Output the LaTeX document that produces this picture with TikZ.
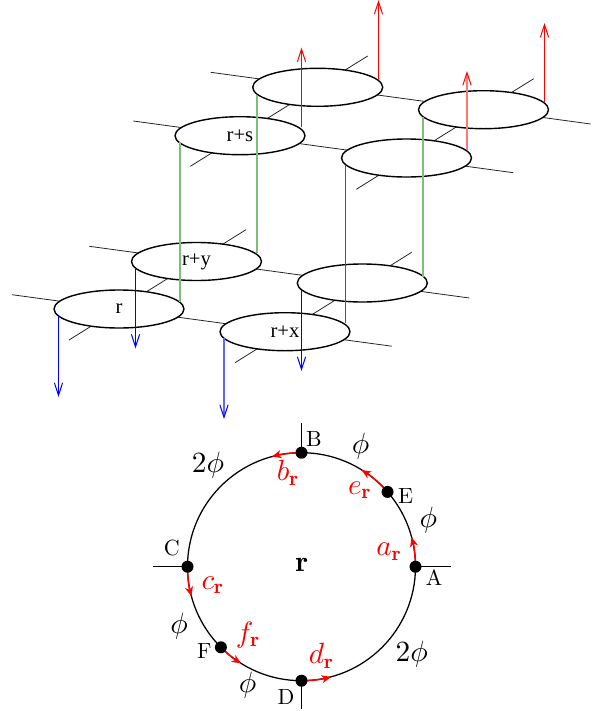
\documentclass[tikz,border=0pt]{standalone}
\usepackage{fontspec}
\newfontfamily\tms{Liberation Serif}
\usetikzlibrary{arrows.meta,shapes.geometric}
\newcommand{\bigmath}[1]{\scalebox{2.2}{$#1$}}
\newcommand{\bigletter}[1]{\scalebox{1.65}{#1}}
\definecolor{softgreen}{RGB}{125,190,125}
\definecolor{softred}{RGB}{255,120,120}
\definecolor{softblue}{RGB}{100,100,255}
\tikzset{
  x=.75pt,y=.75pt,
  grid line/.style={black!85,line width=.6pt},
  site/.style={ellipse,draw=black,fill=white,line width=1.05pt,inner sep=0pt,outer sep=0pt,
    minimum width=97.5pt,minimum height=28.5pt,font=\tms\fontsize{15.5}{15.5}\selectfont},
  green link/.style={draw={rgb,255:red,20;green,130;blue,20},line width=.75pt},
  soft green link/.style={draw=softgreen,line width=1.1pt},
  red link/.style={-{Straight Barb[length=9.5pt,width=6.2pt,line width=.75pt,color=red]},draw=red,line width=.75pt},
  soft red link/.style={-{Straight Barb[length=9.5pt,width=6.2pt,line width=.75pt,color=red]},draw=softred,line width=1.1pt},
  blue link/.style={-{Straight Barb[length=9.5pt,width=6.2pt,line width=.75pt,color=blue]},draw=blue,line width=.75pt},
  soft blue link/.style={-{Straight Barb[length=9.5pt,width=6.2pt,line width=.75pt,color=blue]},draw=softblue,line width=1.1pt},
  ring/.style={circle,draw=black,line width=.95pt,inner sep=0pt,outer sep=0pt,minimum size=171pt},
  dot/.style={circle,fill=black,inner sep=0pt,outer sep=0pt,minimum size=9pt},
  stub/.style={draw=black,line width=1.1pt},
  flow/.style={draw=red,line width=1.15pt,-{Stealth[length=7pt,width=6pt,inset=2pt]}},
  letter/.style={inner sep=0pt},
  arc label/.style={inner sep=0pt},
  flow label/.style={inner sep=0pt,text=red},
}
\begin{document}
\begin{tikzpicture}
\useasboundingbox (0,0) rectangle (605,-711);
% grid lines
\coordinate (h1a) at (12,-294.7);   \coordinate (h1b) at (391.7,-346.2);
\coordinate (h2a) at (89.3,-246.3); \coordinate (h2b) at (469.3,-298);
\coordinate (h3a) at (133.3,-121);  \coordinate (h3b) at (513.3,-172.7);
\coordinate (h4a) at (210.7,-72.3); \coordinate (h4b) at (590.7,-124);
\coordinate (d1a) at (69,-340);     \coordinate (d1b) at (246,-229.7);
\coordinate (d2a) at (235,-362.7);  \coordinate (d2b) at (411.7,-252.3);
\coordinate (d3a) at (190.3,-166.3);\coordinate (d3b) at (367.7,-56);
\coordinate (d4a) at (356.3,-189.3);\coordinate (d4b) at (533.7,-78.7);
\foreach \n in {h1,h2,h3,h4,d1,d2,d3,d4} \draw[grid line] (\n a) -- (\n b);
% sites
\node[site] (r)   at (119,-309)     {r};
\node[site] (ry)  at (196.5,-261.5) {r+y};
\node[site] (rx)  at (285,-331.7)   {r+x};
\node[site] (q)   at (362.3,-283)   {};
\node[site] (rs)  at (240,-135.7)   {r+s};
\node[site] (t)   at (317.7,-87.3)  {};
\node[site] (u)   at (406.5,-158)   {};
\node[site] (v)   at (483.5,-109.7) {};
% green links
\draw[soft green link] (180,-142) coordinate (g1a) -- (180,-301.5) coordinate (g1b);
\draw[soft green link] (257,-95) coordinate (g2a) -- (257,-253) coordinate (g2b);
\draw[green link] (345.5,-165) coordinate (g3a) -- (345.5,-323) coordinate (g3b);
\draw[soft green link] (422.8,-117) coordinate (g4a) -- (422.8,-276.5) coordinate (g4b);
% blue arrows
\draw[blue link] (58.5,-315) coordinate (b1a) -- (58.5,-397) coordinate (b1b);
\draw[blue link] (135.5,-268) coordinate (b2a) -- (135.5,-348.5) coordinate (b2b);
\draw[soft blue link] (224,-338) coordinate (b3a) -- (224,-419) coordinate (b3b);
\draw[blue link] (301.5,-290) coordinate (b4a) -- (301.5,-371) coordinate (b4b);
% red arrows
\draw[red link] (301.5,-127) coordinate (c1a) -- (301.5,-47.5) coordinate (c1b);
\draw[red link] (378.5,-80) coordinate (c2a) -- (378.5,0) coordinate (c2b);
\draw[soft red link] (467,-150) coordinate (c3a) -- (467,-71) coordinate (c3b);
\draw[red link] (544.5,-102) coordinate (c4a) -- (544.5,-23) coordinate (c4b);
% ring
\node[ring] (O) at (301.5,-566.7) {};
\node[inner sep=0pt] (Rr) at (302,-564.5) {\scalebox{2.2}{$\mathbf{r}$}};
\coordinate (tA) at (450.7,-566.7);
\coordinate (tB) at (301.5,-423);
\coordinate (tC) at (152.7,-566.7);
\coordinate (tD) at (301.5,-709.3);
\draw[stub] (O.0) -- (tA);
\draw[stub] (O.90) -- (tB);
\draw[stub] (O.180) -- (tC);
\draw[stub] (O.270) -- (tD);
\draw[flow] (O.0) arc[start angle=0,end angle=15,radius=85.5pt];
\draw[flow] (O.90) arc[start angle=90,end angle=105,radius=85.5pt];
\draw[flow] (O.180) arc[start angle=180,end angle=195,radius=85.5pt];
\draw[flow] (O.270) arc[start angle=270,end angle=285,radius=85.5pt];
\draw[flow] (O.41.3) arc[start angle=41.3,end angle=58.4,radius=85.5pt];
\draw[flow] (O.225) arc[start angle=225,end angle=238,radius=85.5pt];
\node[dot] (A) at (O.0) {};
\node[dot] (B) at (O.90) {};
\node[dot] (C) at (O.180) {};
\node[dot] (D) at (O.270) {};
\node[dot] (E) at (O.41.3) {};
\node[dot] (F) at (O.225) {};
\node[letter] (lA) at (434,-578) {\bigletter{A}};
\node[letter] (lB) at (314,-439) {\bigletter{B}};
\node[letter] (lC) at (171.7,-547.7) {\bigletter{C}};
\node[letter] (lD) at (286,-696.7) {\bigletter{D}};
\node[letter] (lE) at (405.7,-496) {\bigletter{E}};
\node[letter] (lF) at (204.3,-650.7) {\bigletter{F}};
\node[arc label] (p1) at (360.7,-445.7) {\bigmath{\phi}};
\node[arc label] (p2) at (428.3,-520) {\bigmath{\phi}};
\node[arc label] (p3) at (179,-626) {\bigmath{\phi}};
\node[arc label] (p4) at (247.7,-685) {\bigmath{\phi}};
\node[arc label] (p5) at (411.7,-654.3) {\bigmath{2\phi}};
\node[arc label] (p6) at (208,-465) {\bigmath{2\phi}};
\node[flow label] (fa) at (389.3,-551.7) {\bigmath{a_{\mathbf{r}}}};
\node[flow label] (fb) at (288.3,-473) {\bigmath{b_{\mathbf{r}}}};
\node[flow label] (fc) at (213,-585) {\bigmath{c_{\mathbf{r}}}};
\node[flow label] (fd) at (321.7,-656) {\bigmath{d_{\mathbf{r}}}};
\node[flow label] (fe) at (360,-490) {\bigmath{e_{\mathbf{r}}}};
\node[flow label] (ff) at (248.3,-635) {\bigmath{f_{\mathbf{r}}}};
\end{tikzpicture}
\end{document}
